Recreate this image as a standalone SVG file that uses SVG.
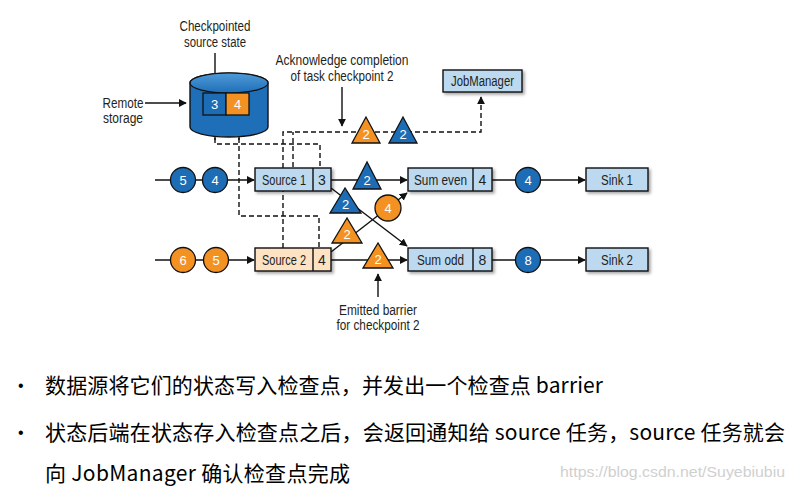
<svg xmlns="http://www.w3.org/2000/svg" width="794" height="490" viewBox="0 0 794 490">
<defs>
<marker id="ah" viewBox="0 0 10 10" refX="9" refY="5" markerWidth="8" markerHeight="8" markerUnits="userSpaceOnUse" orient="auto">
<path d="M0,0 L10,5 L0,10 z" fill="#111"/>
</marker>
<filter id="sh" x="-20%" y="-30%" width="140%" height="170%">
<feDropShadow dx="2" dy="2" stdDeviation="1.5" flood-color="#000" flood-opacity="0.35"/>
</filter>
<linearGradient id="cyl" x1="0" y1="0" x2="0" y2="1">
<stop offset="0" stop-color="#4f9ad8"/>
<stop offset="1" stop-color="#1f6fb8"/>
</linearGradient>
</defs>
<style>
.lbl{font-family:"Liberation Sans",Arial,sans-serif;font-size:14px;fill:#231f20;text-anchor:middle}
.wt{font-family:"Liberation Sans",Arial,sans-serif;font-size:13px;fill:#fff;text-anchor:middle}
.ln{stroke:#111;stroke-width:1.4;fill:none}
.da{stroke:#111;stroke-width:1.4;fill:none;stroke-dasharray:5 3}
.bb{fill:#bcd9ef;stroke:#111;stroke-width:1.4}
.ob{fill:#fde2c4;stroke:#111;stroke-width:1.4}
.bc{fill:#1c6db5;stroke:#111;stroke-width:1.3}
.oc{fill:#f39223;stroke:#111;stroke-width:1.3}
.zh{font-family:"Noto Sans CJK SC","Noto Sans",sans-serif;font-size:21px;fill:#000}
</style>

<g id="connectors">
<path class="da" d="M215,138 V144 H320 V167"/>
<path class="da" d="M239,138 V216 H319 V248"/>
<path class="da" d="M283,248 V132 H481 V97" marker-end="url(#ah)"/>
<path class="da" d="M293,167 V132"/>
<path class="ln" d="M155,180 H254" marker-end="url(#ah)"/>
<path class="ln" d="M331,180 H407" marker-end="url(#ah)"/>
<path class="ln" d="M492,180 H585" marker-end="url(#ah)"/>
<path class="ln" d="M155,260 H254" marker-end="url(#ah)"/>
<path class="ln" d="M331,260 H407" marker-end="url(#ah)"/>
<path class="ln" d="M492,260 H585" marker-end="url(#ah)"/>
<path class="ln" d="M331,188 L407,246" marker-end="url(#ah)"/>
<path class="ln" d="M331,252 L407,193" marker-end="url(#ah)"/>
<path class="ln" d="M215,53 V92" marker-end="url(#ah)"/>
<path class="ln" d="M145,103 H186" marker-end="url(#ah)"/>
<path class="ln" d="M215,140 V118" marker-end="url(#ah)"/>
<path class="ln" d="M239,140 V118" marker-end="url(#ah)"/>
<path class="ln" d="M342,87 V126" marker-end="url(#ah)"/>
<path class="ln" d="M378,297 V274" marker-end="url(#ah)"/>
</g>

<g id="storage">
<path d="M190,83 V127 A39,10 0 0 0 268,127 V83 A39,10 0 0 0 190,83 Z" fill="#1f6fb8" stroke="#111" stroke-width="1.4"/>
<ellipse cx="229" cy="83" rx="39" ry="10" fill="url(#cyl)" stroke="#111" stroke-width="1.2"/>
<rect x="203" y="93" width="23" height="22" class="bc"/>
<rect x="226" y="93" width="23" height="22" class="oc"/>
<text class="wt" x="214.5" y="109">3</text>
<text class="wt" x="237.5" y="109">4</text>
</g>

<g id="label-checkpointed">
<text class="lbl" x="215" y="31" textLength="71" lengthAdjust="spacingAndGlyphs">Checkpointed</text>
<text class="lbl" x="215" y="47" textLength="62" lengthAdjust="spacingAndGlyphs">source state</text>
</g>
<g id="label-remote">
<text class="lbl" x="123" y="108" textLength="41" lengthAdjust="spacingAndGlyphs">Remote</text>
<text class="lbl" x="123" y="123" textLength="40" lengthAdjust="spacingAndGlyphs">storage</text>
</g>
<g id="label-ack">
<text class="lbl" x="342" y="65" textLength="133" lengthAdjust="spacingAndGlyphs">Acknowledge completion</text>
<text class="lbl" x="342" y="81" textLength="103" lengthAdjust="spacingAndGlyphs">of task checkpoint 2</text>
</g>
<g id="label-emitted">
<text class="lbl" x="378" y="315" textLength="78" lengthAdjust="spacingAndGlyphs">Emitted barrier</text>
<text class="lbl" x="378" y="330" textLength="83" lengthAdjust="spacingAndGlyphs">for checkpoint 2</text>
</g>

<g id="jobmanager">
<rect x="443" y="70" width="79" height="22" class="bb" filter="url(#sh)"/>
<text class="lbl" x="482.5" y="86" textLength="63" lengthAdjust="spacingAndGlyphs">JobManager</text>
</g>

<g id="source1">
<rect x="255" y="168" width="76" height="23" class="bb" filter="url(#sh)"/>
<line x1="313" y1="168" x2="313" y2="191" class="ln"/>
<text class="lbl" x="284" y="184.5" textLength="44" lengthAdjust="spacingAndGlyphs">Source 1</text>
<text class="lbl" x="322" y="184.5">3</text>
</g>
<g id="source2">
<rect x="255" y="248" width="76" height="23" class="ob" filter="url(#sh)"/>
<line x1="313" y1="248" x2="313" y2="271" class="ln"/>
<text class="lbl" x="284" y="264.5" textLength="44" lengthAdjust="spacingAndGlyphs">Source 2</text>
<text class="lbl" x="322" y="264.5">4</text>
</g>
<g id="sumeven">
<rect x="408" y="168" width="84" height="23" class="bb" filter="url(#sh)"/>
<line x1="473" y1="168" x2="473" y2="191" class="ln"/>
<text class="lbl" x="440.5" y="184.5" textLength="53" lengthAdjust="spacingAndGlyphs">Sum even</text>
<text class="lbl" x="482.5" y="184.5">4</text>
</g>
<g id="sumodd">
<rect x="408" y="248" width="84" height="23" class="bb" filter="url(#sh)"/>
<line x1="473" y1="248" x2="473" y2="271" class="ln"/>
<text class="lbl" x="440.5" y="264.5" textLength="47" lengthAdjust="spacingAndGlyphs">Sum odd</text>
<text class="lbl" x="482.5" y="264.5">8</text>
</g>
<g id="sink1">
<rect x="586" y="168" width="62" height="23" class="bb" filter="url(#sh)"/>
<text class="lbl" x="617" y="184.5" textLength="32" lengthAdjust="spacingAndGlyphs">Sink 1</text>
</g>
<g id="sink2">
<rect x="586" y="248" width="62" height="23" class="bb" filter="url(#sh)"/>
<text class="lbl" x="617" y="264.5" textLength="32" lengthAdjust="spacingAndGlyphs">Sink 2</text>
</g>

<g id="records-row1">
<circle cx="183" cy="180" r="12.5" class="bc"/><text class="wt" x="183" y="185">5</text>
<circle cx="215" cy="180" r="12.5" class="bc"/><text class="wt" x="215" y="185">4</text>
</g>
<g id="records-row2">
<circle cx="183" cy="260" r="12.5" class="oc"/><text class="wt" x="183" y="265">6</text>
<circle cx="216" cy="260" r="12.5" class="oc"/><text class="wt" x="216" y="265">5</text>
</g>
<g id="record-sum-even-out">
<circle cx="528" cy="180" r="12.5" class="bc"/><text class="wt" x="528" y="185">4</text>
</g>
<g id="record-sum-odd-out">
<circle cx="528" cy="260" r="12.5" class="bc"/><text class="wt" x="528" y="265">8</text>
</g>
<g id="record-diag">
<circle cx="388" cy="208" r="13" class="oc"/><text class="wt" x="388" y="213">4</text>
</g>

<g id="barrier-ack-orange">
<path d="M366,117 L352,143 L380,143 Z" class="oc"/><text class="wt" x="366" y="139">2</text>
</g>
<g id="barrier-ack-blue">
<path d="M403,117 L389,143 L417,143 Z" class="bc"/><text class="wt" x="403" y="139">2</text>
</g>
<g id="barrier-row1">
<path d="M367,162 L353,189 L381,189 Z" class="bc"/><text class="wt" x="367" y="185">2</text>
</g>
<g id="barrier-diag-blue">
<path d="M345,188 L330,213 L361,213 Z" class="bc"/><text class="wt" x="345.5" y="209">2</text>
</g>
<g id="barrier-diag-orange">
<path d="M347,218 L332,243 L362,243 Z" class="oc"/><text class="wt" x="347" y="239">2</text>
</g>
<g id="barrier-row2">
<path d="M378,243 L363,268 L393,268 Z" class="oc"/><text class="wt" x="378" y="264">2</text>
</g>

<g id="bullets">
<text x="18" y="391" style="font-family:'Liberation Sans',sans-serif;font-size:16px;fill:#000">•</text>
<text class="zh" x="45" y="393" textLength="558" lengthAdjust="spacing">数据源将它们的状态写入检查点，并发出一个检查点 barrier</text>
<text x="18" y="438" style="font-family:'Liberation Sans',sans-serif;font-size:16px;fill:#000">•</text>
<text class="zh" x="45" y="440" textLength="740" lengthAdjust="spacing">状态后端在状态存入检查点之后，会返回通知给 source 任务，source 任务就会</text>
<text class="zh" x="45" y="481" textLength="305" lengthAdjust="spacing">向 JobManager 确认检查点完成</text>
</g>
<text x="560" y="477" textLength="225" lengthAdjust="spacingAndGlyphs" style="font-family:'Liberation Sans',sans-serif;font-size:14px;fill:#d0d0d0">https://blog.csdn.net/Suyebiubiu</text>
</svg>
